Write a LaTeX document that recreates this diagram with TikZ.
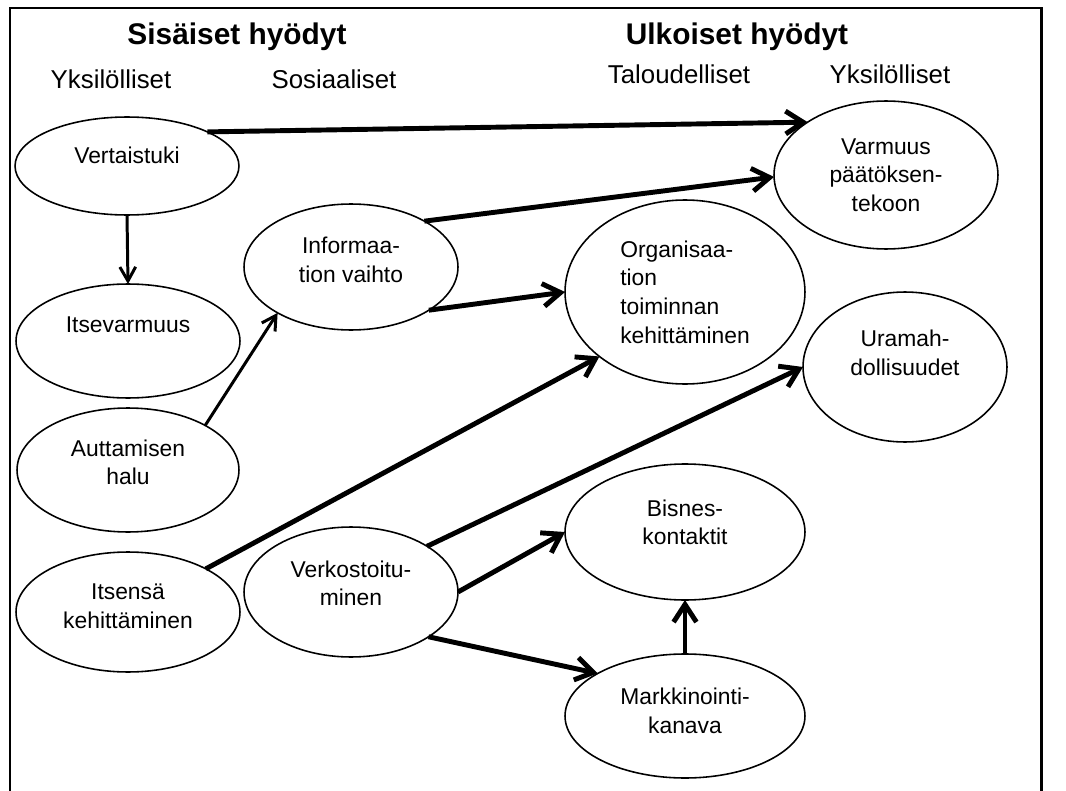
\documentclass[tikz,border=0pt]{standalone}
\usepackage{fontspec}
\setmainfont{Liberation Sans}
\usetikzlibrary{shapes.geometric}
\usetikzlibrary{arrows.meta}
\tikzset{h/.style={font=\fontsize{17}{20}\selectfont\bfseries, anchor=base}}
\tikzset{s/.style={font=\fontsize{14.7}{17}\selectfont, anchor=base}}
\tikzset{e/.style={ellipse, draw, line width=0.9pt, inner sep=0pt, outer sep=0pt, align=center, font=\fontsize{13}{16.3}\selectfont}}
\tikzset{va/.style={line width=2.8pt, -{Straight Barb[length=10pt,width=13pt]}}}
\tikzset{oh/.style={line width=1.7pt, -{Straight Barb[length=8pt,width=9pt]}}}

\begin{document}
\begin{tikzpicture}[x=0.02cm, y=-0.02cm]
  \useasboundingbox (0,0) rectangle (1066,791);
  \draw[line width=1.7pt] (10,791) -- (10,8) -- (1041,8) -- (1041,791);

  % otsikot
  \node[h] (sis) at (237,45) {Sisäiset hyödyt};
  \node[h] (ulk) at (737,45) {Ulkoiset hyödyt};
  \node[s] (yks1) at (111,88) {Yksilölliset};
  \node[s] (sos) at (334,88) {Sosiaaliset};
  \node[s] (tal) at (679,83) {Taloudelliset};
  \node[s] (yks2) at (890,83) {Yksilölliset};

  % sisäiset
  \node[e, minimum width=4.48cm, minimum height=1.96cm, text depth=12pt] (vert) at (127,166) {Vertaistuki};
  \node[e, minimum width=4.48cm, minimum height=2.28cm, text depth=19pt] (itse) at (128,341) {Itsevarmuus};
  \node[e, minimum width=4.44cm, minimum height=2.48cm, text depth=9pt] (autt) at (128,470) {Auttamisen\\halu};
  \node[e, minimum width=4.48cm, minimum height=2.4cm, text depth=7pt] (itsen) at (128,612) {Itsensä\\kehittäminen};
  \node[e, minimum width=4.28cm, minimum height=2.52cm, text depth=8pt] (info) at (351,267) {Informaa-\\tion vaihto};
  \node[e, minimum width=4.28cm, minimum height=2.6cm, text depth=10pt] (verk) at (351,592) {Verkostoitu-\\minen};

  % ulkoiset
  \node[e, minimum width=4.48cm, minimum height=2.96cm] (varm) at (886,175) {Varmuus\\päätöksen-\\tekoon};
  \node[e, minimum width=4.8cm, minimum height=3.68cm, align=left] (org) at (685,292) {Organisaa-\\tion\\toiminnan\\kehittäminen};
  \node[e, minimum width=4.08cm, minimum height=3cm, text depth=16pt] (ura) at (905,367) {Uramah-\\dollisuudet};
  \node[e, minimum width=4.8cm, minimum height=2.72cm, text depth=11pt] (bis) at (685,532) {Bisnes-\\kontaktit};
  \node[e, minimum width=4.8cm, minimum height=2.48cm, text depth=6pt] (mark) at (685,716) {Markkinointi-\\kanava};

  % nuolet
  \draw[va] (vert.23) -- (varm.146);
  \draw[oh] (vert.south) -- (itse.north);
  \draw[oh] (autt.30) -- (info.212);
  \draw[va] (info.32) -- (varm.181);
  \draw[va] (info.-29) -- (org.west);
  \draw[va] (itsen.29) -- (org.217);
  \draw[va] (verk.31) -- (ura.west);
  \draw[va] (verk.east) -- (bis.west);
  \draw[va] (verk.-30) -- (mark.154);
  \draw[va] (mark.north) -- (bis.south);
\end{tikzpicture}
\end{document}
